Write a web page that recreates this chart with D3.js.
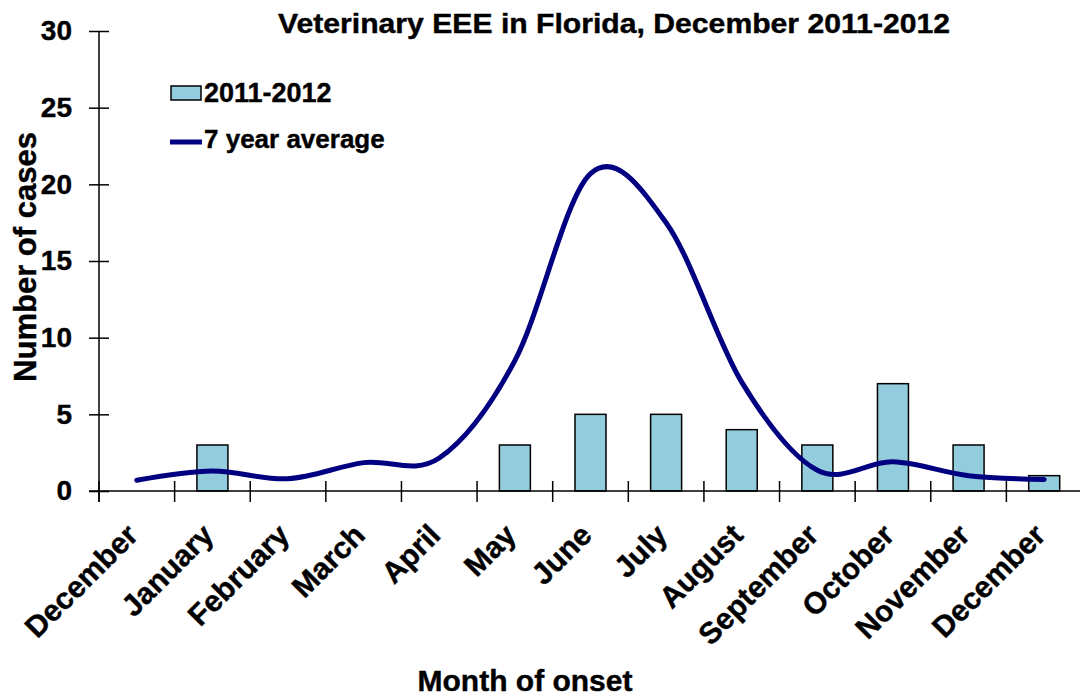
<!DOCTYPE html>
<html>
<head>
<meta charset="utf-8">
<script src="https://cdn.jsdelivr.net/npm/d3@7"></script>
<style>
  body { margin: 0; background: #fff; }
  svg { display: block; font-family: "Liberation Sans", Arial, sans-serif; font-weight: bold; }
  text { stroke: #000; stroke-width: 0.4px; }
</style>
</head>
<body>
<svg id="chart" width="1080" height="698"></svg>
<script>
// data
const months = ["December", "January", "February", "March", "April", "May", "June",
  "July", "August", "September", "October", "November", "December"];
const cases2011 = [0, 3, 0, 0, 0, 3, 5, 5, 4, 3, 7, 3, 1];
const avg7yr = [0.7, 1.3, 0.8, 1.85, 2.15, 8.5, 20.7, 17.5, 7.1, 1.35, 1.9, 1.0, 0.75];
const yTicks = [0, 5, 10, 15, 20, 25, 30];

const svg = d3.select("#chart");

// plot area
const plot = { left: 99, right: 1082, top: 31, bottom: 491 };
const idx = months.map((d, i) => i);

const x = d3.scaleBand().domain(idx).range([plot.left, plot.right]);
const xBar = d3.scaleBand().domain(idx).range([plot.left, plot.right])
  .paddingInner(0.59).paddingOuter(0.295);
const y = d3.scaleLinear().domain([0, 30]).range([plot.bottom, plot.top]);

// bars
svg.append("g")
  .selectAll("rect")
  .data(cases2011.map((v, i) => ({ i, v })).filter((d) => d.v > 0))
  .join("rect")
  .attr("x", (d) => xBar(d.i))
  .attr("y", (d) => y(d.v))
  .attr("width", xBar.bandwidth())
  .attr("height", (d) => y(0) - y(d.v))
  .attr("fill", "#93CDDD")
  .attr("stroke", "#000")
  .attr("stroke-width", 1.5);

// y axis (ticks cross the line)
const yAxis = svg.append("g")
  .attr("transform", `translate(${plot.left},0)`)
  .call(d3.axisLeft(y).tickValues(yTicks).tickSize(10).tickPadding(17));
yAxis.select(".domain").attr("d", `M0,${plot.top}V${plot.bottom + 11}`).attr("stroke-width", 1.5);
yAxis.selectAll(".tick line").attr("x1", -10).attr("x2", 10).attr("stroke-width", 1.5);
yAxis.selectAll(".tick text").attr("font-size", 28).attr("font-family", null);

// x axis with boundary ticks between months
const xAxis = svg.append("g").attr("transform", `translate(0,${plot.bottom})`);
xAxis.append("line")
  .attr("x1", plot.left - 10).attr("x2", plot.right)
  .attr("stroke", "#000").attr("stroke-width", 1.5);
xAxis.selectAll(".bt")
  .data(idx)
  .join("line")
  .attr("class", "bt")
  .attr("x1", (d) => x(d)).attr("x2", (d) => x(d))
  .attr("y1", -10).attr("y2", 11)
  .attr("stroke", "#000").attr("stroke-width", 1.5);
xAxis.selectAll(".lbl")
  .data(idx)
  .join("text")
  .attr("class", "lbl")
  .attr("text-anchor", "end")
  .attr("font-size", 30)
  .attr("transform", (d) => `translate(${x(d) + x.bandwidth() / 2 + 3},${46}) rotate(-45)`)
  .text((d) => months[d]);

// 7 year average line
const line = d3.line()
  .x((d, i) => x(i) + x.bandwidth() / 2)
  .y((d) => y(d))
  .curve(d3.curveCatmullRom.alpha(0));
svg.append("path")
  .datum(avg7yr)
  .attr("d", line)
  .attr("fill", "none")
  .attr("stroke", "#000080")
  .attr("stroke-width", 5)
  .attr("stroke-linecap", "round");

// title
svg.append("text")
  .attr("x", 614).attr("y", 33)
  .attr("text-anchor", "middle")
  .attr("font-size", 27)
  .attr("textLength", 672)
  .attr("lengthAdjust", "spacingAndGlyphs")
  .text("Veterinary EEE in Florida, December 2011-2012");

// axis titles
svg.append("text")
  .attr("x", 525).attr("y", 691)
  .attr("text-anchor", "middle")
  .attr("font-size", 30)
  .text("Month of onset");
svg.append("text")
  .attr("transform", "translate(36,257) rotate(-90)")
  .attr("text-anchor", "middle")
  .attr("font-size", 31)
  .text("Number of cases");

// legend
const legend = svg.append("g");
legend.append("rect")
  .attr("x", 171).attr("y", 86).attr("width", 30).attr("height", 14)
  .attr("fill", "#93CDDD").attr("stroke", "#000").attr("stroke-width", 1.5);
legend.append("text")
  .attr("x", 204).attr("y", 102).attr("font-size", 27)
  .text("2011-2012");
legend.append("line")
  .attr("x1", 170).attr("x2", 202).attr("y1", 142).attr("y2", 142)
  .attr("stroke", "#000080").attr("stroke-width", 5);
legend.append("text")
  .attr("x", 204).attr("y", 148).attr("font-size", 26)
  .text("7 year average");
</script>
</body>
</html>
